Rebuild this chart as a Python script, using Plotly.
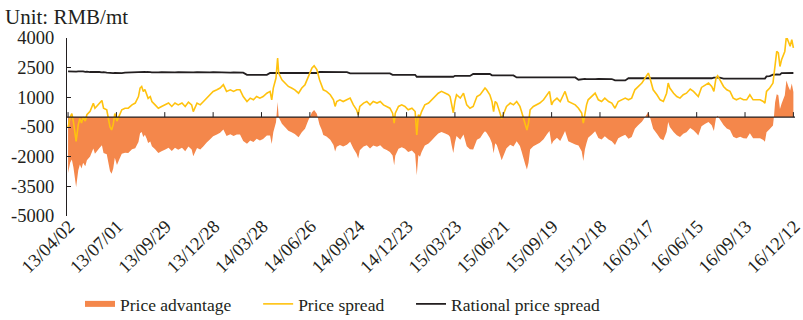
import pandas as pd
import plotly.graph_objects as go

# Observation days, counted from 2013-04-02
day_offset = [
    0, 4, 7, 10, 15, 19, 22, 25, 28,
    32, 35, 41, 47, 50, 53, 58,
    63, 66, 72,
    78, 81, 84, 87, 91, 95, 100,
    106, 112, 119,
    125, 131, 134, 137, 140, 143, 146,
    149, 153, 156, 162, 168, 174, 181, 187, 193, 199, 205, 212, 218, 224, 230,
    233, 240, 246, 252, 258, 264, 270, 277, 283, 289, 295, 302, 308, 314, 320, 326,
    333, 339, 345, 351, 357, 363, 370,
    376, 379, 382, 387, 390, 392, 398, 404, 410, 416, 422, 429, 435, 441, 447, 454, 458, 463,
    468, 472, 475, 481, 488, 494, 497, 500, 506, 512, 519,
    525, 531, 537, 540, 543, 550, 556, 562, 568, 575, 581, 587, 593, 599,
    604, 607, 609, 615, 621, 627, 633, 640, 646,
    649, 652, 655, 658, 664, 671, 677, 683, 689, 695, 702, 708, 711, 714, 717,
    720, 723, 730, 736, 742, 748,
    754, 761, 767, 773, 776, 779, 785,
    789, 792, 795, 798, 804, 807, 810, 816, 823, 829,
    835, 841, 844, 851, 854, 857, 860, 866, 872, 878, 885, 891, 896, 900, 903, 910, 916, 922, 925, 931, 937, 944,
    950,
    956, 959, 962, 965, 968, 975, 981, 987, 993, 999, 1006, 1012,
    1018, 1024, 1030, 1037,
    1043, 1049, 1055, 1061, 1068, 1074, 1080, 1083, 1089, 1096, 1102, 1108, 1114, 1117,
    1120, 1127, 1133, 1139, 1145, 1151, 1158, 1164, 1170, 1173, 1179, 1186, 1192, 1198,
    1202, 1206, 1209, 1213,
    1220, 1226, 1232, 1238, 1244, 1251, 1257, 1263, 1269, 1275, 1282, 1288, 1294, 1297,
    1300, 1306,
    1312, 1314, 1316, 1319, 1322, 1325,
    1328, 1334, 1337, 1341, 1344, 1347, 1350,
]

# Price spread, RMB/mt
price_spread = [
    -520, 0, 180, -240, -1230, -380, -70, -300, 0,
    -200, 120, 290, 700, 450, 540, 700,
    840, 450, 370,
    -500, -650, -380, 180, -200, 50, 370,
    450, 450, 620,
    710, 1040, 1470, 1550, 1300, 1400, 1210,
    950, 1040, 790, 620, 450, 540, 620, 710, 540, 710, 620, 710, 540, 760, 620,
    280, 710, 620, 790, 960, 1130, 1300, 1380, 1470, 1640, 1300, 1380, 1300, 1380, 1380, 1040,
    790, 960, 875, 1040, 960, 1040, 1210,
    1300, 875, 1470, 1975, 2990, 2225, 1890, 1720, 1550, 1470, 1380, 1210, 1470, 1640, 2060, 2480, 2600, 2400,
    1890, 1640, 1380, 1300, 1130, 875, 540, 790, 875, 790, 875,
    960, 620, 370, 120, 540, 710, 790, 620, 790, 710, 790, 620, 540, 450,
    200, -300, 200, 540, 620, 540, 370, 450, 280,
    -900, 120, 30, 280, 620, 710, 875, 1040, 1210, 1300, 1210, 1130, 1040, 620, 220,
    790, 1130, 960, 1210, 620, 450,
    540, 1040, 1130, 1380, 1470, 1380, 1130,
    790, 280, 790, 710, 200, -70, 120, 540, 710, 620,
    790, 540, 280, -390, -650, -300, 370, 540, 620, 710, 875, 1130, 1300, 620, 790, 960, 790, 1130, 1300, 790, 710, 620,
    450,
    200, -300, 300, 620, 875, 1040, 1210, 875, 790, 960, 790, 710,
    450, 790, 875, 960,
    875, 960, 1380, 1550, 1720, 1975, 2225, 1975, 1380, 1130, 875, 790, 1210, 1720,
    1470, 1210, 1040, 960, 1130, 1210, 1420, 1300, 1130, 1040, 1500, 1640, 1720, 1550,
    1300, 1975, 2090, 1890,
    1550, 1380, 1300, 960, 875, 960, 875, 875, 1130, 875, 875, 875, 790, 710,
    1300, 1470,
    1720, 2225, 2900, 3320, 3250, 2560,
    2900, 3320, 4080, 3750, 3580, 3920, 3500,
]

# Rational price spread, RMB/mt
rational_spread = [
    2310, 2300, 2320, 2310, 2300, 2310, 2320, 2300, 2310,
    2290, 2300, 2280, 2290, 2300, 2290, 2280,
    2260, 2270, 2250,
    2220, 2210, 2220, 2230, 2220, 2210, 2220,
    2250, 2260, 2250,
    2290, 2300, 2290, 2300, 2310, 2290, 2280,
    2260, 2270, 2260, 2250, 2260, 2270, 2260, 2260, 2250, 2260, 2270, 2260, 2260, 2250, 2260,
    2260, 2270, 2260, 2260, 2250, 2260, 2270, 2260, 2260, 2270, 2260, 2250, 2260, 2260, 2260, 2250,
    2140, 2140, 2130, 2140, 2140, 2150, 2140,
    2230, 2230, 2240, 2230, 2230, 2230, 2220, 2230, 2240, 2230, 2230, 2230, 2240, 2230, 2230, 2230, 2240, 2230,
    2280, 2280, 2290, 2280, 2270, 2280, 2280, 2290, 2280, 2280, 2270,
    2210, 2210, 2220, 2210, 2210, 2200, 2210, 2210, 2220, 2210, 2210, 2210, 2200, 2210,
    2140, 2140, 2150, 2140, 2140, 2140, 2130, 2140, 2140,
    2040, 2030, 2040, 2040, 2050, 2040, 2040, 2030, 2040, 2050, 2040, 2040, 2040, 2050, 2040,
    2090, 2090, 2100, 2090, 2090, 2080,
    2180, 2180, 2190, 2180, 2180, 2170, 2180,
    2110, 2110, 2110, 2120, 2110, 2110, 2100, 2110, 2110, 2110,
    2005, 2005, 2010, 2005, 2000, 2005, 2005, 2010, 2005, 2005, 2000, 2005, 2005, 2010, 2005, 2005, 2000, 2005, 2005, 2010, 2005, 2005,
    1890,
    1925, 1925, 1930, 1925, 1920, 1925, 1925, 1930, 1925, 1925, 1920, 1925,
    1855, 1855, 1860, 1855,
    1965, 1965, 1970, 1965, 1960, 1965, 1965, 1970, 1965, 1965, 1960, 1965, 1965, 1970,
    1965, 1965, 1960, 1965, 1965, 1970, 1965, 1965, 1960, 1965, 1965, 1970, 1965, 1965,
    2000, 2010, 2020, 2000,
    1950, 1950, 1955, 1950, 1945, 1950, 1950, 1955, 1950, 1950, 1945, 1950, 1950, 1950,
    2060, 2070,
    2150, 2140, 2150, 2160, 2150, 2150,
    2225, 2220, 2230, 2225, 2235, 2225, 2230,
]

tick_labels = [
    "13/04/02", "13/07/01", "13/09/29", "13/12/28", "14/03/28", "14/06/26",
    "14/09/24", "14/12/23", "15/03/23", "15/06/21", "15/09/19", "15/12/18",
    "16/03/17", "16/06/15", "16/09/13", "16/12/12",
]
y_ticks = [-5000, -3500, -2000, -500, 1000, 2500, 4000]

assert len(day_offset) == len(price_spread) == len(rational_spread)

dates = pd.Timestamp("2013-04-02") + pd.to_timedelta(day_offset, unit="D")
price_advantage = [s - r for s, r in zip(price_spread, rational_spread)]
tick_dates = pd.to_datetime(tick_labels, format="%y/%m/%d")

FONT = "Liberation Serif, Times New Roman, serif"
INK = "#231F20"
ORANGE = "#F4874B"
GOLD = "#FFC20E"
GAP = "\u00a0" * 5  # extra room after each legend entry

fig = go.Figure()
fig.add_trace(go.Scatter(
    x=dates, y=price_advantage, name="Price advantage" + GAP,
    mode="none", fill="tozeroy", fillcolor=ORANGE, legendrank=1,
    hoverinfo="skip",
))
fig.add_trace(go.Scatter(
    x=dates, y=rational_spread, name="Rational price spread",
    mode="lines", line=dict(color=INK, width=1.8), legendrank=3,
))
fig.add_trace(go.Scatter(
    x=dates, y=price_spread, name="Price spread" + GAP,
    mode="lines", line=dict(color=GOLD, width=1.6), legendrank=2,
))

# Zero baseline across the plot, drawn above the filled area
shapes = [dict(
    type="line", xref="paper", x0=0, x1=1, yref="y", y0=0, y1=0,
    line=dict(color=INK, width=1.3), layer="above",
)]
# Short date ticks standing on the zero baseline
for d in tick_dates:
    shapes.append(dict(
        type="line", xref="x", x0=d, x1=d, yref="y", ysizemode="pixel",
        yanchor=0, y0=0, y1=5, line=dict(color=INK, width=1), layer="above",
    ))

fig.update_layout(
    width=803, height=320,
    margin=dict(l=67, r=8, t=38, b=104),
    paper_bgcolor="white", plot_bgcolor="white",
    font=dict(family=FONT, size=18, color=INK),
    title=dict(
        text="Unit: RMB/mt", font=dict(family=FONT, size=21, color=INK),
        xref="container", x=5 / 803, xanchor="left",
        yref="container", y=1 - 17 / 320, yanchor="middle",
    ),
    xaxis=dict(
        type="date",
        range=["2013-03-31", "2016-12-15"],
        tickvals=tick_dates, ticktext=tick_labels,
        tickangle=-45, ticks="", showline=False, showgrid=False,
        zeroline=False, automargin=False,
        ticklabeloverflow="allow", ticklabelshift=1, ticklabelstandoff=-5,
        tickfont=dict(family=FONT, size=18.5, color=INK),
    ),
    yaxis=dict(
        range=[-5000, 4000], tickvals=y_ticks,
        ticktext=[str(v) for v in y_ticks],
        ticks="inside", ticklen=4, tickcolor=INK, tickwidth=1,
        showline=True, linecolor=INK, linewidth=1.2,
        showgrid=False, zeroline=False, ticklabelstandoff=8,
        automargin=False,
        tickfont=dict(family=FONT, size=18.5, color=INK),
    ),
    shapes=shapes,
    showlegend=True,
    legend=dict(
        orientation="h", xref="container", yref="container",
        x=80 / 803, xanchor="left", y=(320 - 304) / 320, yanchor="middle",
        font=dict(family=FONT, size=17.5, color=INK),
        bgcolor="rgba(0,0,0,0)",
    ),
)

fig.write_html("out.html")
